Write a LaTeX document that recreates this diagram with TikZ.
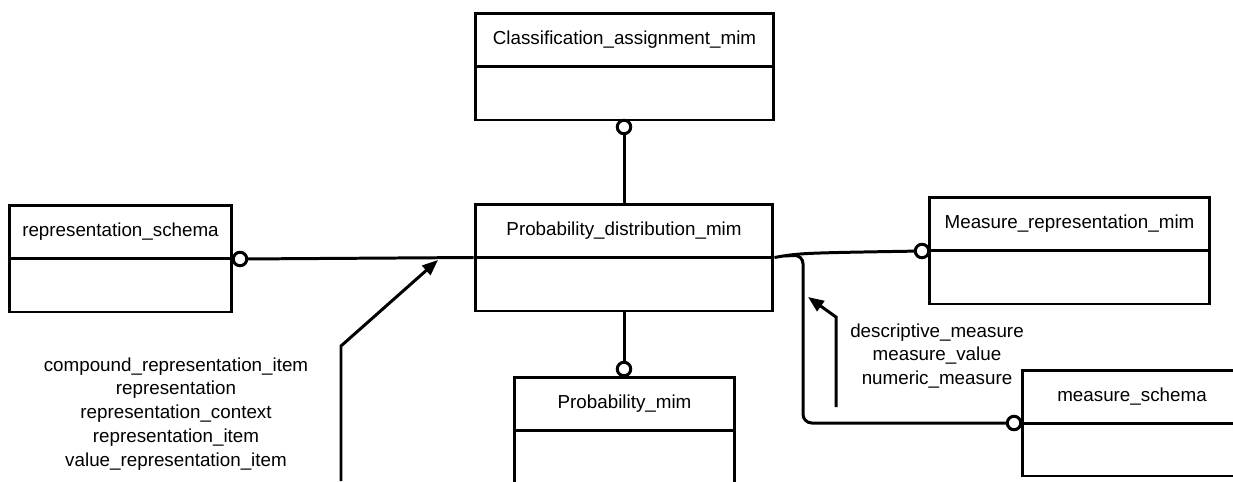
\documentclass[tikz,border=0pt]{standalone}
\usepackage{fontspec}
\setmainfont{Liberation Sans}
\usetikzlibrary{arrows.meta}
\tikzset{
  box/.style={draw, line width=1.7pt, inner sep=0pt, minimum height=2.14cm},
  title/.style={font=\fontsize{10.7}{13.6}\selectfont},
  ocirc/.style={draw, circle, fill=white, line width=1.7pt, minimum size=0.27cm, inner sep=0pt},
  conn/.style={line width=1.7pt},
  tip/.style={-{Triangle[length=9pt,width=7pt]}},
}
\begin{document}
\begin{tikzpicture}[x=0.02cm, y=-0.02cm]
            \useasboundingbox (0,0) rectangle (1233,481);
            \clip (0,0) rectangle (1233,481);
            \node[box, minimum width=5.98cm] (cam) at (624.5,66.5) {};
            \node[box, minimum width=5.96cm] (pdm) at (624,257.5) {};
            \node[box, minimum width=4.42cm] (pm) at (624.5,430.5) {};
            \node[box, minimum width=4.46cm] (rs) at (120.5,258.5) {};
            \node[box, minimum width=5.62cm] (mrm) at (1069.5,250.5) {};
            \node[box, minimum width=4.40cm, minimum height=2.12cm] (ms) at (1132,423) {};
            \draw[conn] (cam.west) -- (cam.east);
            \draw[conn] (pdm.west) -- (pdm.east);
            \draw[conn] (pm.west) -- (pm.east);
            \draw[conn] (rs.west) -- (rs.east);
            \draw[conn] (mrm.west) -- (mrm.east);
            \draw[conn] (ms.west) -- (ms.east);
            \node[title] (camt) at (624.5,40) {Classification\_assignment\_mim};
            \node[title] (pdmt) at (624,231) {Probability\_distribution\_mim};
            \node[title] (pmt) at (624.5,404) {Probability\_mim};
            \node[title] (rst) at (120.5,232) {representation\_schema};
            \node[title] (mrmt) at (1069.5,224) {Measure\_representation\_mim};
            \node[title] (mst) at (1132,396.5) {measure\_schema};
            \draw[conn] (pdm.north) -- (624,127);
            \draw[conn] (pdm.south) -- (624,369);
            \draw[conn] (240,259) -- (pdm.west);
            \draw[conn] (pdm.east) .. controls (800,253) .. (922,251);
            \draw[conn, rounded corners=5pt] (785,256) -- (803,255) -- (803,423) -- (1014,423);
            \node[ocirc] (camc) at (624,127) {};
            \node[ocirc] (pmc) at (624,369) {};
            \node[ocirc] (rsc) at (240,259) {};
            \node[ocirc] (mrmc) at (922,251) {};
            \node[ocirc] (msc) at (1014,423) {};
            \coordinate (a1s) at (341,481);
            \coordinate (a1b) at (341,346);
            \coordinate (a1e) at (438,260);
            \coordinate (a2s) at (836,407);
            \coordinate (a2b) at (836,317);
            \coordinate (a2e) at (808,297);
            \draw[conn, tip] (a1s) -- (a1b) -- (a1e);
            \draw[conn, tip] (a2s) -- (a2b) -- (a2e);
            \node[title, align=center] (replist) at (176,414) {compound\_representation\_item\\representation\\representation\_context\\representation\_item\\value\_representation\_item};
            \node[title, align=center] (measlist) at (937,356) {descriptive\_measure\\measure\_value\\numeric\_measure};
        \end{tikzpicture}
\end{document}
